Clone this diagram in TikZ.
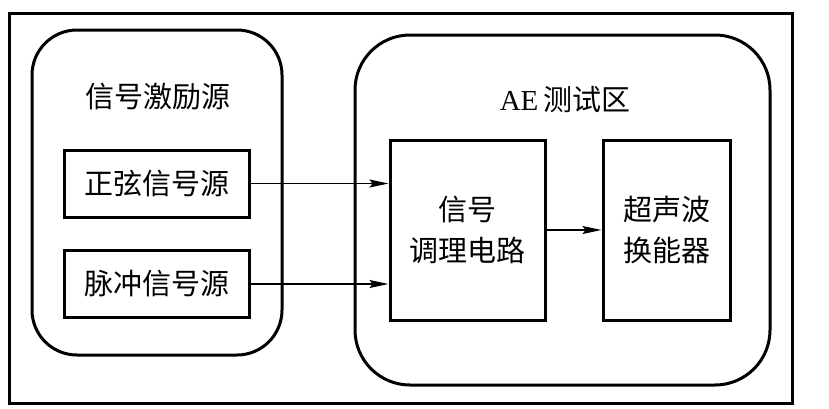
\documentclass[tikz,border=0pt]{standalone}
\usepackage{fontspec}
\setmainfont{Liberation Serif}
\newfontfamily\cjk{Noto Sans CJK SC}
\usetikzlibrary{arrows.meta,positioning}
\tikzset{
    every node/.style={font=\cjk\fontsize{29}{41}\selectfont},
    frame/.style={draw,line width=3pt},
    panel/.style={draw,line width=3pt,rounded corners=45pt},
    srcbox/.style={draw,line width=3pt,minimum width=185pt,minimum height=67pt,inner sep=0pt},
    procbox/.style={draw,line width=3pt,minimum height=180pt,inner sep=0pt,align=center},
    sig/.style={draw,line width=1.5pt,-{Stealth[length=19pt,width=8pt,inset=3pt]}}
}
\begin{document}
\begin{tikzpicture}[x=1pt,y=-1pt]
\useasboundingbox (0,0) rectangle (829,408);
\draw[frame] (9,13) rectangle (792,403);
% panels
\node[panel,minimum width=250pt,minimum height=325pt] (exc) at (157,192.5) {};
\node[panel,rounded corners=55pt,minimum width=415pt,minimum height=350pt] (area) at (562.5,210) {};
\node (exctitle) at (158,97) {信号激励源};
\node (areatitle) at (565,100) {{\rmfamily AE}\,测试区};
% sources
\node[srcbox] (sine) at (156.5,183.5) {正弦信号源};
\node[srcbox] (pulse) at (156.5,284) {脉冲信号源};
% processing chain
\node[procbox,minimum width=155pt] (cond) at (467.5,230) {信号\\调理电路};
\node[procbox,minimum width=127pt] (trans) at (666.5,230) {超声波\\换能器};
\draw[sig] (sine.east) -- (cond.west |- sine.east);
\draw[sig] (pulse.east) -- (cond.west |- pulse.east);
\draw[sig] (cond.east) -- (trans.west);
\end{tikzpicture}
\end{document}
